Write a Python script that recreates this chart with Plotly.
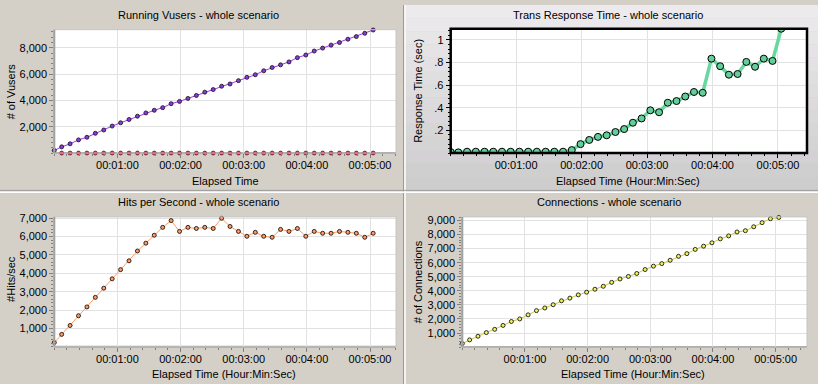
import plotly.graph_objects as go

# ---------------- data ----------------
times = [0] + [7 + 8 * k for k in range(38)]          # seconds
zero_times = [7 + 8 * k for k in range(38)]

running_vusers = [200, 470, 700, 1000, 1200, 1500, 1750, 2050, 2300, 2550, 2800, 3050, 3250,
                  3450, 3750, 3925, 4150, 4375, 4625, 4825, 5075, 5250, 5500, 5750, 5950,
                  6250, 6500, 6700, 6925, 7250, 7450, 7750, 7975, 8200, 8400, 8650, 8850,
                  9100, 9350]
stopped_vusers = [0] * 38

response_time = [0.009, 0.006, 0.012, 0.012, 0.012, 0.012, 0.012, 0.012, 0.012, 0.012, 0.012,
                 0.012, 0.012, 0.012, 0.026, 0.079, 0.116, 0.143, 0.157, 0.186, 0.212, 0.268,
                 0.306, 0.378, 0.361, 0.445, 0.46, 0.50, 0.54, 0.533, 0.835, 0.768, 0.693,
                 0.699, 0.806, 0.763, 0.835, 0.815, 1.10]

hits_per_sec = [230, 675, 1160, 1690, 2170, 2690, 3190, 3700, 4200, 4680, 5215, 5640, 6070,
                6500, 6870, 6280, 6500, 6440, 6500, 6440, 6995, 6550, 6280, 6015, 6230, 6015,
                5960, 6390, 6280, 6440, 6015, 6280, 6180, 6180, 6280, 6230, 6180, 5960, 6180]

connections = [250, 510, 770, 1030, 1260, 1540, 1820, 2000, 2290, 2590, 2780, 3010, 3290,
               3480, 3710, 3900, 4110, 4320, 4600, 4840, 5020, 5230, 5510, 5750, 5930, 6170,
               6450, 6640, 6940, 7170, 7410, 7690, 7900, 8180, 8270, 8550, 8840, 9120, 9210]

x_tickvals = [60, 120, 180, 240, 300]
x_ticktext = ["00:01:00", "00:02:00", "00:03:00", "00:04:00", "00:05:00"]

vusers_tickvals = [2000, 4000, 6000, 8000]
vusers_ticktext = ["2,000", "4,000", "6,000", "8,000"]
resp_tickvals = [0.2, 0.4, 0.6, 0.8, 1.0]
resp_ticktext = [".2", ".4", ".6", ".8", "1"]
hits_tickvals = [1000, 2000, 3000, 4000, 5000, 6000, 7000]
hits_ticktext = ["1,000", "2,000", "3,000", "4,000", "5,000", "6,000", "7,000"]
conn_tickvals = [1000, 2000, 3000, 4000, 5000, 6000, 7000, 8000, 9000]
conn_ticktext = ["1,000", "2,000", "3,000", "4,000", "5,000", "6,000", "7,000", "8,000", "9,000"]

titles = ["Running Vusers - whole scenario", "Trans Response Time - whole scenario",
          "Hits per Second - whole scenario", "Connections - whole scenario"]
x_titles = ["Elapsed Time", "Elapsed Time (Hour:Min:Sec)",
            "Elapsed Time (Hour:Min:Sec)", "Elapsed Time (Hour:Min:Sec)"]
y_titles = ["# of Vusers", "Response Time (sec)", "#Hits/sec", "# of Connections"]

# ---------------- layout helpers ----------------
W, H = 818, 384
BG = "#d4d0c8"
FONT = "Liberation Sans"


def fx(p):
    return p / W


def fy(p):
    return 1 - p / H


# plot boxes in pixels: (left, top, right, bottom)
boxes = {
    "tl": (54.3, 25, 396, 150),
    "tr": (450.7, 24, 807, 150),
    "bl": (54.3, 214.7, 396, 346.3),
    "br": (462.3, 214.7, 807, 346.6),
}

fig = go.Figure()

fig.add_trace(go.Scatter(x=times, y=running_vusers, mode="lines+markers", xaxis="x", yaxis="y",
                         line=dict(color="#9a3cf0", width=1),
                         marker=dict(size=4, color="#8a3ad8", line=dict(color="#101010", width=0.8)),
                         cliponaxis=False, showlegend=False))
fig.add_trace(go.Scatter(x=zero_times, y=stopped_vusers, mode="markers", xaxis="x", yaxis="y",
                         marker=dict(size=4, color="#e0304e", line=dict(color="#400010", width=0.6)),
                         cliponaxis=False, showlegend=False))
fig.add_trace(go.Scatter(x=times, y=response_time, mode="lines+markers", xaxis="x2", yaxis="y2",
                         line=dict(color="#66d8a0", width=3.5),
                         marker=dict(size=7, color="#66cc99", line=dict(color="#000000", width=1)),
                         showlegend=False))
fig.add_trace(go.Scatter(x=times, y=hits_per_sec, mode="lines+markers", xaxis="x3", yaxis="y3",
                         line=dict(color="#ff9a5e", width=1),
                         marker=dict(size=4, color="#ff9966", line=dict(color="#000000", width=0.8)),
                         cliponaxis=False, showlegend=False))
fig.add_trace(go.Scatter(x=times, y=connections, mode="lines+markers", xaxis="x4", yaxis="y4",
                         line=dict(color="#c8c84a", width=1),
                         marker=dict(size=4, color="#f0f060", line=dict(color="#000000", width=0.8)),
                         cliponaxis=False, showlegend=False))

tickfont = dict(family=FONT, size=11, color="#000000")


def xaxis_cfg(box, rng, linecolor):
    l, t, r, b = box
    return dict(domain=[fx(l), fx(r)], range=rng, tickvals=x_tickvals, ticktext=x_ticktext,
                ticks="outside", ticklen=4, tickwidth=1, tickcolor=linecolor,
                showgrid=True, gridcolor="#e2e2e2", gridwidth=1, zeroline=False,
                showline=False, tickfont=tickfont, fixedrange=True, ticklabelstandoff=-2,
                minor=dict(dtick=12, tick0=0, ticks="outside", ticklen=2, tickcolor=linecolor,
                           showgrid=False))


def yaxis_cfg(box, rng, tv, tt, minor_dtick, linecolor):
    l, t, r, b = box
    return dict(domain=[fy(b), fy(t)], range=rng, tickvals=tv, ticktext=tt,
                ticks="outside", ticklen=4, tickwidth=1, tickcolor=linecolor,
                showgrid=True, gridcolor="#e2e2e2", gridwidth=1, zeroline=False,
                showline=False, tickfont=tickfont, fixedrange=True,
                minor=dict(dtick=minor_dtick, tick0=0, ticks="outside", ticklen=2,
                           tickcolor=linecolor, showgrid=False))


fig.update_layout(
    width=W, height=H, margin=dict(l=0, r=0, t=0, b=0),
    paper_bgcolor=BG, plot_bgcolor="#ffffff",
    xaxis=dict(**xaxis_cfg(boxes["tl"], [0, 324.7], "#808080"), anchor="y"),
    yaxis=dict(**yaxis_cfg(boxes["tl"], [0, 9375], vusers_tickvals, vusers_ticktext, 400, "#808080"), anchor="x"),
    xaxis2=dict(**xaxis_cfg(boxes["tr"], [0, 326.6], "#000000"), anchor="y2"),
    yaxis2=dict(**yaxis_cfg(boxes["tr"], [0, 1.1], resp_tickvals, resp_ticktext, 0.04, "#000000"), anchor="x2"),
    xaxis3=dict(**xaxis_cfg(boxes["bl"], [0, 324.7], "#808080"), anchor="y3"),
    yaxis3=dict(**yaxis_cfg(boxes["bl"], [0, 7070], hits_tickvals, hits_ticktext, 200, "#808080"), anchor="x3"),
    xaxis4=dict(**xaxis_cfg(boxes["br"], [0, 330], "#808080"), anchor="y4"),
    yaxis4=dict(**yaxis_cfg(boxes["br"], [0, 9250], conn_tickvals, conn_ticktext, 200, "#808080"), anchor="x4"),
)

shapes = []
# gradient background of the selected (top-right) panel
top_c = (236, 234, 236)
bot_c = (206, 205, 206)
n = 14
for i in range(n):
    f = i / (n - 1)
    c = tuple(int(round(top_c[j] + (bot_c[j] - top_c[j]) * f)) for j in range(3))
    y0 = 187 * i / n
    y1 = 187 * (i + 1) / n
    shapes.append(dict(type="rect", xref="paper", yref="paper", x0=fx(405.5), x1=1,
                       y0=fy(y1), y1=fy(y0), line=dict(width=0),
                       fillcolor="rgb(%d,%d,%d)" % c, layer="below"))
# white plot backgrounds over the gradient
for key in boxes:
    l, t, r, b = boxes[key]
    shapes.append(dict(type="rect", xref="paper", yref="paper", x0=fx(l), x1=fx(r),
                       y0=fy(b), y1=fy(t), line=dict(width=0), fillcolor="#ffffff",
                       layer="below"))

# panel separators
shapes.append(dict(type="line", xref="paper", yref="paper", x0=fx(403.5), x1=fx(403.5),
                   y0=0, y1=1, line=dict(color="#9a9a9a", width=1), layer="below"))
shapes.append(dict(type="line", xref="paper", yref="paper", x0=fx(405), x1=fx(405),
                   y0=0, y1=1, line=dict(color="#ffffff", width=1.5), layer="below"))
shapes.append(dict(type="line", xref="paper", yref="paper", x0=0, x1=1,
                   y0=fy(187.8), y1=fy(187.8), line=dict(color="#9a9a9a", width=1), layer="below"))
shapes.append(dict(type="line", xref="paper", yref="paper", x0=0, x1=1,
                   y0=fy(189.6), y1=fy(189.6), line=dict(color="#ffffff", width=1.5), layer="below"))

# plot borders
for key in ["tl", "bl", "br"]:
    l, t, r, b = boxes[key]
    shapes.append(dict(type="rect", xref="paper", yref="paper", x0=fx(l), x1=fx(r),
                       y0=fy(b), y1=fy(t), line=dict(color="#c4c4c4", width=1),
                       fillcolor="rgba(0,0,0,0)", layer="above"))
    shapes.append(dict(type="line", xref="paper", yref="paper", x0=fx(l), x1=fx(l),
                       y0=fy(b), y1=fy(t), line=dict(color="#a0a0a0", width=2), layer="above"))
    shapes.append(dict(type="line", xref="paper", yref="paper", x0=fx(l), x1=fx(r),
                       y0=fy(b), y1=fy(b), line=dict(color="#a0a0a0", width=2), layer="below"))
l, t, r, b = boxes["tr"]
shapes.append(dict(type="rect", xref="paper", yref="paper", x0=fx(l), x1=fx(r),
                   y0=fy(b), y1=fy(t), line=dict(color="#000000", width=2.5),
                   fillcolor="rgba(0,0,0,0)", layer="above"))
fig.update_layout(shapes=shapes)

annotations = []
title_pos = [(198, 10), (608, 10), (198, 200), (609, 200)]
xt_pos = [(225, 178), (628, 178), (224, 374), (633, 374)]
yt_pos = [(11, 87.5), (418, 87), (11.5, 278), (418, 281)]
for i in range(4):
    for txt, (px_, py_), ang in [(titles[i], title_pos[i], 0), (x_titles[i], xt_pos[i], 0),
                                 (y_titles[i], yt_pos[i], -90)]:
        annotations.append(dict(text=txt, x=fx(px_), y=fy(py_), xref="paper", yref="paper",
                                xanchor="center", yanchor="middle", showarrow=False,
                                textangle=ang, font=dict(family=FONT, size=11, color="#000000")))
fig.update_layout(annotations=annotations)

fig.write_html("out.html", config={"displayModeBar": False},
               post_script="document.body.style.margin='0px';document.body.style.overflow='hidden';")
